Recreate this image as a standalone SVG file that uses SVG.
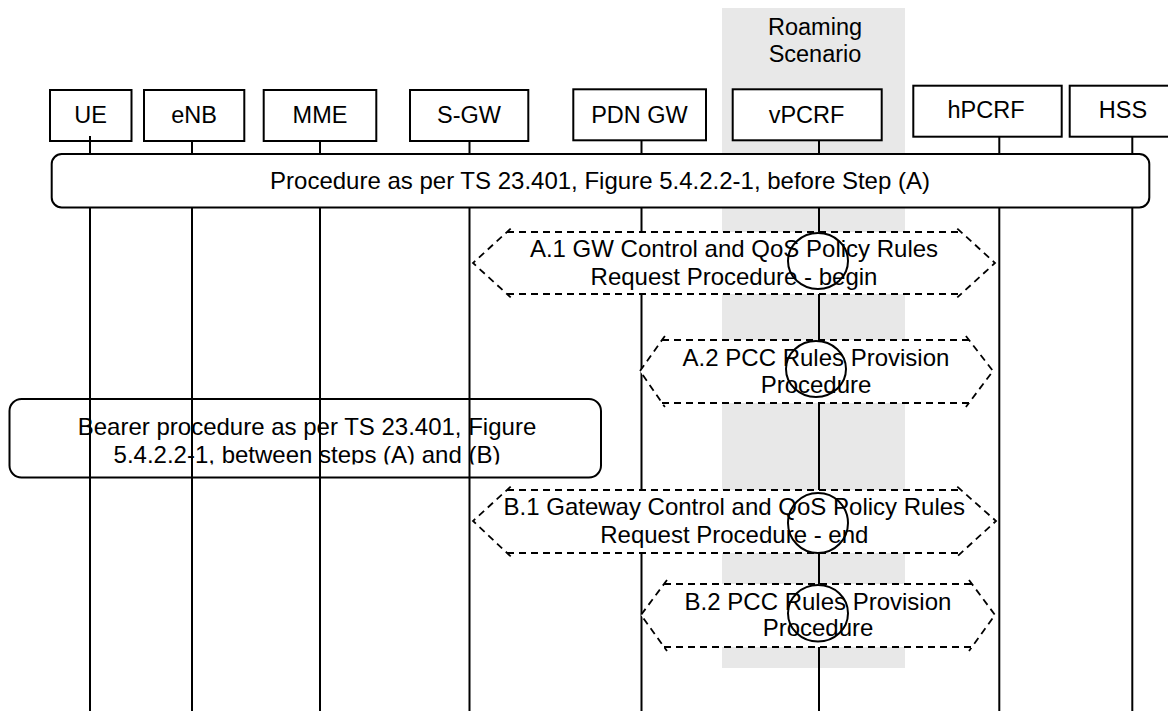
<svg xmlns="http://www.w3.org/2000/svg" width="1168" height="711" viewBox="0 0 1168 711">
<style>
text{font-family:"Liberation Sans",Arial,sans-serif;fill:#000}
.lbl{font-size:23.5px;text-anchor:middle}
.t{font-size:24px;text-anchor:middle}
.box{fill:#fff;stroke:#000;stroke-width:2}
.life{stroke:#000;stroke-width:2;fill:none}
.hexfill{fill:#fff;stroke:none}
.hex{fill:none;stroke:#000;stroke-width:1.8;stroke-dasharray:7 5}
.circ{fill:none;stroke:#000;stroke-width:2}
</style>
<defs>
<clipPath id="clipB"><rect x="0" y="390" width="620" height="74.5"/></clipPath>
</defs>

<g id="roaming">
<rect x="722" y="8" width="183" height="660" fill="#e8e8e8"/>
<text class="lbl" x="815" y="35">Roaming</text>
<text class="lbl" x="815" y="62">Scenario</text>
</g>

<g id="UE"><rect class="box" x="50" y="90" width="81.5" height="51"/><text class="lbl" x="90.7" y="123">UE</text></g>
<g id="eNB"><rect class="box" x="144" y="90" width="100.3" height="51"/><text class="lbl" x="194" y="123">eNB</text></g>
<g id="MME"><rect class="box" x="263.7" y="90" width="112.6" height="51"/><text class="lbl" x="320" y="123">MME</text></g>
<g id="SGW"><rect class="box" x="410" y="90" width="118.3" height="51"/><text class="lbl" x="469" y="123">S-GW</text></g>
<g id="PDNGW"><rect class="box" x="573.3" y="89.3" width="132.7" height="51"/><text class="lbl" x="639.5" y="122.5">PDN GW</text></g>
<g id="vPCRF"><rect class="box" x="732.7" y="89.3" width="149" height="51"/><text class="lbl" x="806.5" y="122.5">vPCRF</text></g>
<g id="hPCRF"><rect class="box" x="913.3" y="85.7" width="148.4" height="51"/><text class="lbl" x="986" y="118.3">hPCRF</text></g>
<g id="HSS"><rect class="box" x="1069.7" y="85.7" width="110" height="51"/><text class="lbl" x="1123" y="118.3">HSS</text></g>

<g id="bearer">
<rect class="box" x="9.5" y="399" width="591.5" height="78.5" rx="12"/>
<text class="t" x="307" y="435">Bearer procedure as per TS 23.401, Figure</text>
<text class="t" x="307" y="463" clip-path="url(#clipB)">5.4.2.2-1, between steps (A) and (B)</text>
</g>

<g id="connectors">
<line class="life" x1="90" y1="136" x2="90" y2="711"/>
<line class="life" x1="192" y1="141" x2="192" y2="711"/>
<line class="life" x1="320" y1="141" x2="320" y2="711"/>
<line class="life" x1="469.5" y1="141" x2="469.5" y2="711"/>
<line class="life" x1="641.5" y1="140.3" x2="641.5" y2="711"/>
<line class="life" x1="819" y1="140.3" x2="819" y2="711"/>
<line class="life" x1="999.3" y1="136.7" x2="999.3" y2="711"/>
<line class="life" x1="1132.3" y1="136.7" x2="1132.3" y2="711"/>
</g>

<g id="procedure">
<rect class="box" x="51.7" y="154" width="1097.6" height="53.5" rx="10"/>
<text class="t" x="600" y="189">Procedure as per TS 23.401, Figure 5.4.2.2-1, before Step (A)</text>
</g>

<g id="A1">
<polygon class="hexfill" points="473,263 507,232 961,232 995,263 961,294 507,294"/>
<path class="hex" d="M507,232H961M507,294H961M510.7,228.6L473,263L510.7,297.4M957.3,228.6L995,263L957.3,297.4"/>
<text class="t" x="734" y="256.7">A.1 GW Control and QoS Policy Rules</text>
<text class="t" x="734" y="285">Request Procedure - begin</text>
<ellipse class="circ" cx="818" cy="261" rx="30" ry="28"/>
</g>

<g id="A2">
<polygon class="hexfill" points="640,371 662,340 969,340 993,371 969,403 662,403"/>
<path class="hex" d="M662,340H969M662,403H969M664.9,335.9L640,371L664.9,407.1M965.9,336L993,371L965.9,407"/>
<text class="t" x="816" y="365.7">A.2 PCC Rules Provision</text>
<text class="t" x="816" y="392.7">Procedure</text>
<ellipse class="circ" cx="816" cy="369" rx="30" ry="28"/>
</g>

<g id="B1">
<polygon class="hexfill" points="473,521 507,490 961,490 996,521 961,553 507,553"/>
<path class="hex" d="M507,490H961M507,553H961M510.7,486.6L473,521L510.7,556.4M957.3,486.7L996,521L957.3,556.3"/>
<text class="t" x="734.3" y="515">B.1 Gateway Control and QoS Policy Rules</text>
<text class="t" x="734.3" y="542.7">Request Procedure - end</text>
<ellipse class="circ" cx="818" cy="523" rx="30" ry="30"/>
</g>

<g id="B2">
<polygon class="hexfill" points="641,615 664,584 972,584 995,615 972,647 664,647"/>
<path class="hex" d="M664,584H972M664,647H972M667,580L641,615L667,651M969,580L995,615L969,651"/>
<text class="t" x="818" y="610">B.2 PCC Rules Provision</text>
<text class="t" x="818" y="636">Procedure</text>
<ellipse class="circ" cx="818" cy="613.3" rx="30" ry="28.3"/>
</g>
</svg>
